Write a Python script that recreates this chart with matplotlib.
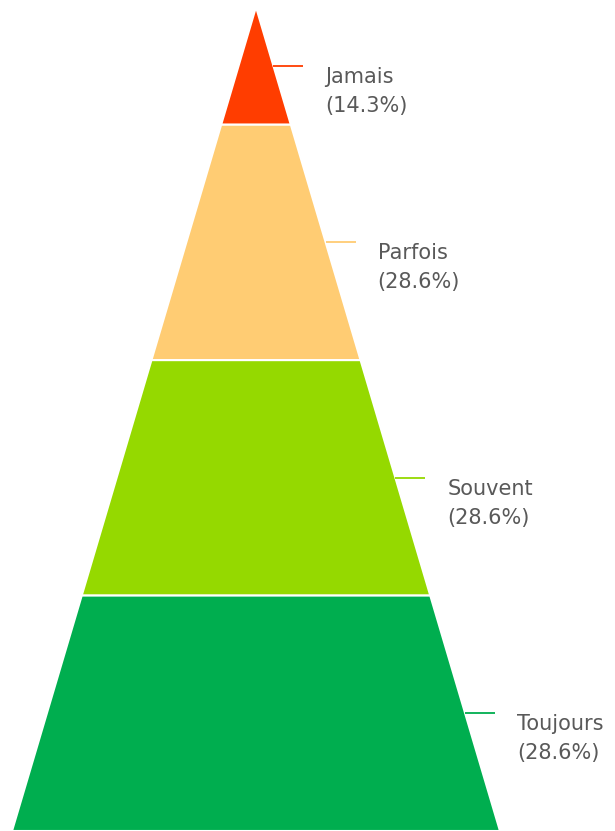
import matplotlib
matplotlib.use("Agg")
import matplotlib.pyplot as plt

categories = ["Jamais", "Parfois", "Souvent", "Toujours"]
values = [1, 2, 2, 2]
colors = ["#FF3D00", "#FFCC73", "#95D900", "#00AE4F"]

W, H = 615, 831
fig = plt.figure(figsize=(W / 100, H / 100), dpi=100)
ax = fig.add_axes([0, 0, 1, 1])
ax.set_xlim(0, W)
ax.set_ylim(H, 0)
ax.axis("off")

apex_x, apex_y = 256, 7
base_y, base_half = 831, 244
slope = base_half / (base_y - apex_y)
total = sum(values)
height = base_y - apex_y

def half(y):
    return (y - apex_y) * slope

y0 = apex_y
for cat, v, c in zip(categories, values, colors):
    y1 = y0 + v / total * height
    xs = [apex_x - half(y0), apex_x + half(y0), apex_x + half(y1), apex_x - half(y1)]
    ys = [y0, y0, y1, y1]
    ax.fill(xs, ys, color=c, edgecolor="white", linewidth=1.5, joinstyle="miter")
    mid = (y0 + y1) / 2
    ex = apex_x + half(mid)
    ax.plot([ex, ex + 30], [mid, mid], color=c, linewidth=1.3, solid_capstyle="butt")
    pct = v / total * 100
    ax.text(ex + 52, mid + 17, cat, fontsize=15, color="#595959",
            va="baseline", ha="left", family="DejaVu Sans")
    ax.text(ex + 52, mid + 46, f"({pct:.1f}%)", fontsize=15, color="#595959",
            va="baseline", ha="left", family="DejaVu Sans")
    y0 = y1

fig.savefig("out.png", dpi=100)
